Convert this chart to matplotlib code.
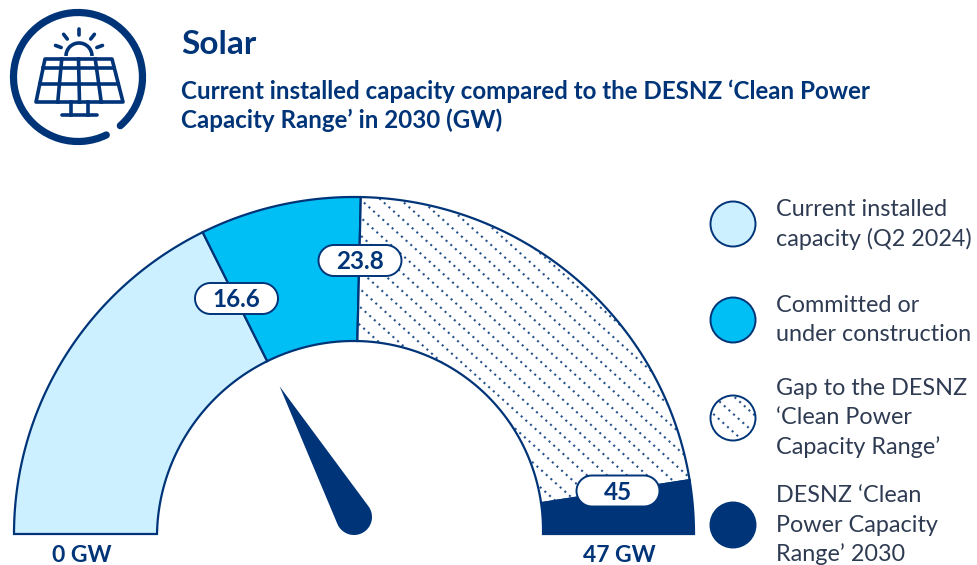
import matplotlib
matplotlib.use("Agg")
import matplotlib.pyplot as plt
import numpy as np
from matplotlib.patches import Arc, Circle, Polygon

plt.rcParams["font.family"] = ["Lato", "DejaVu Sans"]

NAVY = "#003478"
LIGHT = "#CCF0FF"
CYAN = "#00BFF5"
TEXT = "#2E3B52"

# gauge values, GW
gauge_max = 47
segment_names = ["Current installed", "Committed", "Gap", "Clean Power range"]
segment_ends = [16.6, 23.8, 44.6, 47]
segment_colors = [LIGHT, CYAN, "white", NAVY]
pill_labels = ["16.6", "23.8", "45"]
pill_centers = [(236.5, 298.5), (360, 260.5), (618, 491)]
needle_value = 16.6
end_labels = ["0 GW", "47 GW"]

title = "Solar"
subtitle = ["Current installed capacity compared to the DESNZ ‘Clean Power",
            "Capacity Range’ in 2030 (GW)"]
legend_labels = [
    ["Current installed", "capacity (Q2 2024)"],
    ["Committed or", "under construction"],
    ["Gap to the DESNZ", "‘Clean Power", "Capacity Range’"],
    ["DESNZ ‘Clean", "Power Capacity", "Range’ 2030"],
]
legend_y = [224, 320, 418, 525]

BASE_Y = 534


def outer_point(t):
    return 354 - 340 * np.cos(t), BASE_Y - 337 * np.sin(t)


def inner_point(t):
    # the inner edge is not quite concentric with the outer one
    return 350 + 3.5 * np.sin(t) - 193 * np.cos(t), BASE_Y - 193 * np.sin(t)


def to_angle(value):
    return value / gauge_max * np.pi


def segment_polygon(v0, v1, **kwargs):
    t = np.linspace(to_angle(v0), to_angle(v1), 120)
    ox, oy = outer_point(t)
    ix, iy = inner_point(t[::-1])
    pts = np.column_stack([np.r_[ox, ix], np.r_[oy, iy]])
    return Polygon(pts, closed=True, **kwargs)


def dotted_fill(ax, clip, x0, x1, y0, y1, step=20):
    for c in np.arange(x0 - (y1 - y0), x1, step):
        line, = ax.plot([c, c + (y1 - y0) / 0.9], [y0, y1], color=NAVY, lw=1.5, alpha=0.85,
                        ls=(0, (1, 2)), zorder=2)
        line.set_clip_path(clip)


def stadium(x, y, w, h, **kwargs):
    r = h / 2
    a = np.linspace(-np.pi / 2, np.pi / 2, 30)
    right = np.column_stack([x + w / 2 - r + r * np.cos(a), y + r * np.sin(a)])
    left = np.column_stack([x - w / 2 + r - r * np.cos(a), y - r * np.sin(a)])
    return Polygon(np.vstack([right, left]), closed=True, **kwargs)


def draw_icon(ax):
    lw = 2.6
    ax.add_patch(Arc((78, 77), 129, 129, theta1=64, theta2=360 + 49, color=NAVY,
                     lw=5.2, capstyle="round"))
    top_y, bot_y = 59, 102
    top_l, top_r, bot_l, bot_r = 45, 112, 36, 123
    ax.add_patch(Polygon([(top_l, top_y), (top_r, top_y), (bot_r, bot_y), (bot_l, bot_y)],
                         closed=True, fill=False, ec=NAVY, lw=lw, joinstyle="round"))
    for y in [68, 84]:
        f = (y - top_y) / (bot_y - top_y)
        ax.plot([top_l + f * (bot_l - top_l), top_r + f * (bot_r - top_r)], [y, y],
                color=NAVY, lw=lw)
    for f in [0.25, 0.5, 0.75]:
        ax.plot([top_l + f * (top_r - top_l), bot_l + f * (bot_r - bot_l)], [top_y, bot_y],
                color=NAVY, lw=lw)
    ax.add_patch(Arc((79, 56), 26, 26, theta1=180, theta2=360, color=NAVY, lw=lw))
    for a in [-160, -128, -90, -52, -20]:
        t = np.radians(a)
        ax.plot([79 + 19 * np.cos(t), 79 + 25 * np.cos(t)],
                [54 + 19 * np.sin(t), 54 + 25 * np.sin(t)],
                color=NAVY, lw=lw, solid_capstyle="round")
    ax.plot([71, 71], [102, 115], color=NAVY, lw=lw)
    ax.plot([88, 88], [102, 115], color=NAVY, lw=lw)
    ax.plot([62, 97], [115, 115], color=NAVY, lw=lw, solid_capstyle="round")


def draw_needle(ax):
    hub_x, hub_y, hub_r = 354, 517, 18
    t = to_angle(needle_value)
    tip = np.array([353.5 - 166 * np.cos(t), 535 - 166 * np.sin(t)])
    d = tip - np.array([hub_x, hub_y])
    dist = np.hypot(*d)
    base = np.arctan2(d[1], d[0])
    off = np.arccos(hub_r / dist)
    arc = np.linspace(base + off, base + 2 * np.pi - off, 40)
    pts = np.column_stack([hub_x + hub_r * np.cos(arc), hub_y + hub_r * np.sin(arc)])
    ax.add_patch(Polygon(np.vstack([tip, pts]), closed=True, fc=NAVY, ec="none", zorder=4))


def main():
    fig = plt.figure(figsize=(9.78, 5.65), dpi=100)
    ax = fig.add_axes([0, 0, 1, 1])
    ax.set_xlim(0, 978)
    ax.set_ylim(565, 0)
    ax.axis("off")

    draw_icon(ax)
    ax.text(181, 44, title, fontsize=24, fontweight="bold", color=NAVY, va="center")
    for text, y in zip(subtitle, [91, 120]):
        ax.text(181, y, text, fontsize=17.4, fontweight="bold", color=NAVY, va="center")

    start = 0
    for end, color in zip(segment_ends, segment_colors):
        seg = segment_polygon(start, end, fc=color, ec=NAVY, lw=1.6, zorder=1)
        ax.add_patch(seg)
        if color == "white":
            dotted_fill(ax, seg, 340, 700, 190, 520)
        start = end

    for label, (x, y) in zip(pill_labels, pill_centers):
        ax.add_patch(stadium(x, y, 83, 31, fc="white", ec=NAVY, lw=1.4, zorder=5))
        ax.text(x, y + 1, label, fontsize=17.5, fontweight="bold", color=NAVY,
                ha="center", va="center", zorder=6)

    draw_needle(ax)

    ax.text(82, 555, end_labels[0], fontsize=16.5, fontweight="bold", color=NAVY, ha="center", va="center")
    ax.text(619, 555, end_labels[1], fontsize=16.5, fontweight="bold", color=NAVY, ha="center", va="center")

    for i, (lines, y) in enumerate(zip(legend_labels, legend_y)):
        circle = Circle((733, y), 22.5, fc=segment_colors[i], ec=NAVY, lw=1.4, zorder=2)
        ax.add_patch(circle)
        if segment_colors[i] == "white":
            dotted_fill(ax, circle, 700, 770, y - 25, y + 25)
        top = y - (len(lines) - 1) * 29.3 / 2
        for j, line in enumerate(lines):
            ax.text(776, top + j * 29.3, line, fontsize=16.8, color=TEXT, va="center")

    fig.savefig("out.png", dpi=100)
    plt.close(fig)


if __name__ == "__main__":
    main()
